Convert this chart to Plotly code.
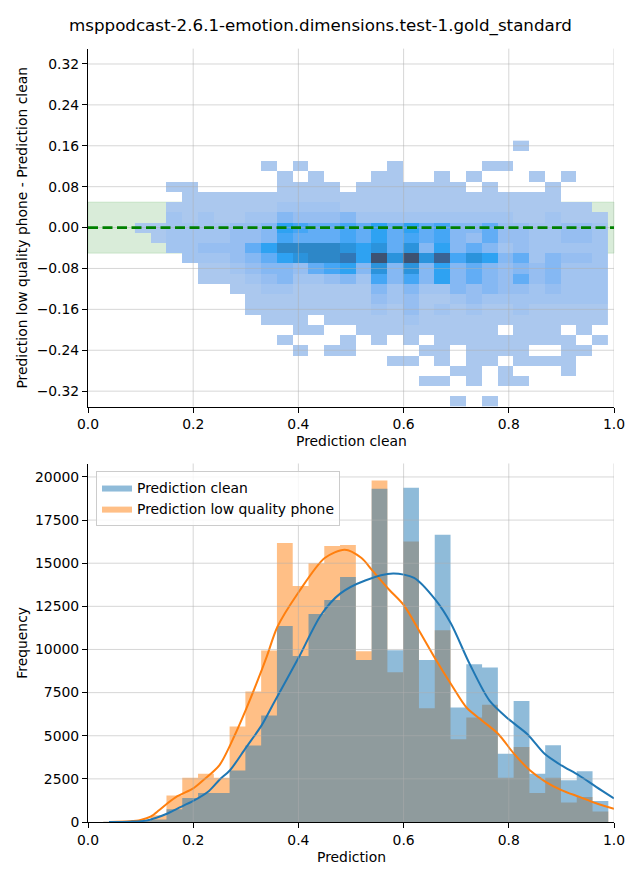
import plotly.graph_objects as go

TITLE = "msppodcast-2.6.1-emotion.dimensions.test-1.gold_standard"

# ---------------- top panel: 2D histogram ----------------
# column centres (Prediction clean) and row centres (difference)
grid_x = [0.1042, 0.1342, 0.1642, 0.1942, 0.2242, 0.2542, 0.2842, 0.3142, 0.3442, 0.3742,
          0.4042, 0.4342, 0.4642, 0.4942, 0.5242, 0.5542, 0.5842, 0.6142, 0.6442, 0.6742,
          0.7042, 0.7342, 0.7642, 0.7942, 0.8242, 0.8542, 0.8842, 0.9142, 0.9442, 0.9742]
grid_y = [-0.34, -0.32, -0.30, -0.28, -0.26, -0.24, -0.22, -0.20, -0.18, -0.16, -0.14, -0.12,
          -0.10, -0.08, -0.06, -0.04, -0.02, 0.00, 0.02, 0.04, 0.06, 0.08, 0.10, 0.12, 0.14, 0.16]

# estimated cell density (0 = empty), rows listed bottom (-0.34) to top (0.16)
density = [
    [0,0,0,0,0,0,0,0,0,0,0,0,0,0,0,0,0,0,0,0,1,0,1,0,0,0,0,0,0,0],
    [0,0,0,0,0,0,0,0,0,0,0,0,0,0,0,0,0,0,0,0,0,0,0,0,0,0,0,0,0,0],
    [0,0,0,0,0,0,0,0,0,0,0,0,0,0,0,0,0,0,1,1,0,1,0,1,1,0,0,0,0,0],
    [0,0,0,0,0,0,0,0,0,0,0,0,0,0,0,0,0,0,0,0,1,1,0,1,0,0,0,1,0,0],
    [0,0,0,0,0,0,0,0,0,0,0,0,0,0,0,0,1,1,0,1,0,1,1,0,1,1,1,1,0,0],
    [0,0,0,0,0,0,0,0,0,0,1,0,1,1,0,0,0,0,1,1,0,1,1,1,1,0,0,1,1,0],
    [0,0,0,0,0,0,0,0,0,1,0,0,0,1,0,1,0,1,0,1,1,1,1,1,1,1,1,1,0,1],
    [0,0,0,0,0,0,0,0,0,0,1,1,0,0,1,1,1,1,1,1,1,1,1,0,1,1,1,0,1,0],
    [0,0,0,0,0,0,0,0,1,1,1,0,1,1,1,1,1,2,1,1,1,1,1,1,1,1,1,1,1,1],
    [0,0,0,0,0,0,0,1,1,1,1,1,1,1,1,2,1,3,1,2,1,2,1,1,2,1,1,1,1,1],
    [0,0,0,0,0,0,0,1,1,1,1,1,1,1,1,3,2,3,1,1,2,3,2,2,2,2,2,2,2,2],
    [0,0,0,0,0,0,1,1,2,2,1,1,1,1,1,4,2,4,2,2,4,3,4,3,3,2,3,2,2,2],
    [0,0,0,0,1,1,1,2,3,4,2,2,3,4,2,6,4,6,4,7,4,5,4,3,5,3,4,2,2,2],
    [0,0,0,0,1,1,2,3,4,4,3,5,6,7,4,8,4,8,4,7,4,5,4,3,4,3,4,2,2,2],
    [0,0,0,2,2,2,3,4,5,7,8,9,9,10,7,12,8,12,8,11,6,8,7,4,5,2,4,3,3,2],
    [0,0,2,2,3,3,3,5,7,9,9,9,9,8,7,8,5,8,4,7,4,5,4,2,3,2,2,2,2,2],
    [0,1,2,2,2,2,3,3,4,6,5,5,5,6,5,7,5,6,5,6,4,3,5,3,3,2,2,3,3,2],
    [1,1,2,2,2,2,3,3,4,7,6,5,5,6,5,7,5,7,5,6,4,4,5,3,3,2,2,3,3,2],
    [0,0,2,1,2,1,1,2,2,4,3,3,3,4,2,2,2,2,2,2,2,2,2,2,1,1,2,1,1,1],
    [0,0,1,1,1,1,1,1,1,2,2,2,2,1,1,1,1,1,1,1,1,1,1,1,1,1,1,1,1,0],
    [0,0,0,1,1,1,1,1,1,1,1,1,1,1,1,1,1,1,1,1,1,1,1,1,1,1,1,0,0,0],
    [0,0,1,1,0,0,0,0,0,1,1,1,1,0,1,1,1,1,1,1,1,0,1,0,0,0,1,0,0,0],
    [0,0,0,0,0,0,0,0,0,1,0,1,0,0,0,1,1,0,0,1,0,1,0,0,0,1,0,1,0,0],
    [0,0,0,0,0,0,0,0,1,0,1,0,0,0,0,0,1,0,0,0,0,0,1,1,0,0,0,0,0,0],
    [0,0,0,0,0,0,0,0,0,0,0,0,0,0,0,0,0,0,0,0,0,0,0,0,0,0,0,0,0,0],
    [0,0,0,0,0,0,0,0,0,0,0,0,0,0,0,0,0,0,0,0,0,0,0,0,1,0,0,0,0,0],
]

level_colors = ["#abc8ee", "#a2c4f0", "#96bef1", "#85b8f3", "#62adf5", "#45a6f5",
                "#2ea2f2", "#2b93dc", "#2d87c8", "#3177b6", "#3a6394", "#3d5272"]

top_x_ticks = [0.0, 0.2, 0.4, 0.6, 0.8, 1.0]
top_x_labels = ["0.0", "0.2", "0.4", "0.6", "0.8", "1.0"]
top_y_ticks = [-0.32, -0.24, -0.16, -0.08, 0.0, 0.08, 0.16, 0.24, 0.32]
top_y_labels = ["\u22120.32", "\u22120.24", "\u22120.16", "\u22120.08", "0.00",
                "0.08", "0.16", "0.24", "0.32"]
band_limits = [-0.05, 0.05]

# ---------------- bottom panel: histograms ----------------
bin_width = 0.03
hist_centers = [0.0442, 0.0742, 0.1042, 0.1342, 0.1642, 0.1942, 0.2242, 0.2542, 0.2842, 0.3142,
                0.3442, 0.3742, 0.4042, 0.4342, 0.4642, 0.4942, 0.5242, 0.5542, 0.5842, 0.6142,
                0.6442, 0.6742, 0.7042, 0.7342, 0.7642, 0.7942, 0.8242, 0.8542, 0.8842, 0.9142,
                0.9442, 0.9742]
clean_counts = [20, 40, 60, 140, 733, 1390, 1680, 1680, 2990, 4440, 6180, 11360, 9620, 12060,
                12870, 14200, 9390, 19320, 9950, 19380, 9390, 16650, 6640, 9150, 8950, 3950,
                7020, 2800, 4450, 2420, 2940, 1220]
phone_counts = [10, 30, 80, 390, 1540, 2570, 2800, 2570, 5540, 7570, 9940, 16170, 13680, 15000,
                16000, 16060, 9900, 19790, 8680, 16260, 6600, 11120, 4790, 6050, 6790, 2560,
                4350, 1680, 2560, 1130, 1450, 610]

kde_x_clean = [0.04, 0.08, 0.11, 0.13, 0.15, 0.17, 0.20, 0.23, 0.25, 0.27, 0.30, 0.33, 0.355,
               0.40, 0.443, 0.48, 0.527, 0.58, 0.62, 0.66, 0.69, 0.725, 0.763, 0.80, 0.835,
               0.868, 0.90, 0.933, 0.966, 1.0]
kde_y_clean = [0, 20, 80, 250, 480, 780, 1220, 1800, 2450, 3000, 4300, 5600, 7000, 9500, 12000,
               13250, 14000, 14400, 14150, 12900, 11500, 9200, 7050, 5950, 5100, 3950, 3280,
               2710, 2040, 1370]
kde_x_phone = [0.04, 0.08, 0.10, 0.12, 0.135, 0.15, 0.17, 0.20, 0.22, 0.25, 0.28, 0.30, 0.32,
               0.34, 0.36, 0.40, 0.45, 0.488, 0.52, 0.54, 0.573, 0.60, 0.629, 0.66, 0.69, 0.72,
               0.75, 0.78, 0.81, 0.84, 0.87, 0.90, 0.933, 0.966, 1.0]
kde_y_phone = [0, 40, 120, 330, 680, 1060, 1500, 1950, 2450, 3300, 5100, 6500, 8000, 9600,
               11300, 13300, 15300, 15780, 15300, 14600, 13450, 12580, 11120, 9480, 8000, 6620,
               5860, 5100, 3950, 3000, 2330, 1850, 1470, 1090, 760]

bot_y_ticks = [0, 2500, 5000, 7500, 10000, 12500, 15000, 17500, 20000]

# ---------------- figure ----------------
z = [[(v if v > 0 else None) for v in row] for row in density]
n = len(level_colors)
colorscale = [[i / (n - 1), c] for i, c in enumerate(level_colors)]

fig = go.Figure()
fig.add_trace(go.Heatmap(x=grid_x, y=grid_y, z=z, colorscale=colorscale, zmin=1, zmax=n,
                         showscale=False, hoverongaps=False, xaxis="x", yaxis="y"))


def step_hist(counts, name, fill, rank):
    # histogram drawn as a seamless stepped area (bins share edges)
    xs = [c - bin_width / 2 for c in hist_centers] + [hist_centers[-1] + bin_width / 2]
    ys = list(counts) + [counts[-1]]
    return go.Scatter(x=xs, y=ys, mode="lines", line=dict(width=0, shape="hv"),
                      fill="tozeroy", fillcolor=fill, name=name, legendrank=rank,
                      xaxis="x2", yaxis="y2", hoverinfo="skip")


fig.add_trace(step_hist(phone_counts, "Prediction low quality phone", "rgba(255,127,14,0.5)", 2))
fig.add_trace(step_hist(clean_counts, "Prediction clean", "rgba(31,119,180,0.5)", 1))
fig.add_trace(go.Scatter(x=kde_x_phone, y=kde_y_phone, mode="lines", showlegend=False,
                         line=dict(color="#ff7f0e", width=2, shape="spline", smoothing=0.8),
                         xaxis="x2", yaxis="y2"))
fig.add_trace(go.Scatter(x=kde_x_clean, y=kde_y_clean, mode="lines", showlegend=False,
                         line=dict(color="#1f77b4", width=2, shape="spline", smoothing=0.8),
                         xaxis="x2", yaxis="y2"))

W, H = 640, 880
XD = [88 / W, 614 / W]
TOP_YD = [1 - 406.5 / H, 1 - 48.65 / H]
BOT_YD = [1 - 822 / H, 1 - 463.5 / H]

axis_common = dict(showline=True, linecolor="black", linewidth=1, ticks="outside", ticklen=5,
                   tickwidth=1, tickcolor="black", showgrid=False, zeroline=False,
                   automargin=False, tickfont=dict(size=13.9, color="black"))

fig.update_layout(
    width=W, height=H, margin=dict(l=0, r=0, t=0, b=0),
    paper_bgcolor="white", plot_bgcolor="white",
    font=dict(family="DejaVu Sans", size=13.9, color="black"),
    showlegend=True,
    xaxis=dict(domain=XD, range=[0, 1], anchor="y", tickvals=top_x_ticks, ticktext=top_x_labels, **axis_common),
    yaxis=dict(domain=TOP_YD, range=[-0.35, 0.35], anchor="x", tickvals=top_y_ticks, ticktext=top_y_labels, **axis_common),
    xaxis2=dict(domain=XD, range=[0, 1], anchor="y2", tickvals=top_x_ticks, ticktext=top_x_labels, **axis_common),
    yaxis2=dict(domain=BOT_YD, range=[0, 20780], anchor="x2", tickvals=bot_y_ticks,
                ticktext=[str(v) for v in bot_y_ticks], **axis_common),
    legend=dict(x=96 / W, y=1 - 471 / H, xanchor="left", yanchor="top",
                bgcolor="rgba(255,255,255,0.8)", bordercolor="#cccccc", borderwidth=1,
                font=dict(size=13.9, color="black"), tracegroupgap=2),
)

shapes = []
shapes.append(dict(type="rect", xref="x domain", yref="y", x0=0, x1=1, y0=band_limits[0], y1=band_limits[1],
                   fillcolor="rgba(0,128,0,0.15)", line=dict(color="rgba(0,128,0,0.12)", width=1), layer="below"))
grid_line = dict(color="rgba(176,176,176,0.5)", width=1)
for xv in top_x_ticks[1:]:
    for ya in ("y", "y2"):
        xa = "x" if ya == "y" else "x2"
        shapes.append(dict(type="line", xref=xa, yref=ya + " domain", x0=xv, x1=xv, y0=0, y1=1,
                           line=grid_line, layer="above"))
for yv in top_y_ticks:
    shapes.append(dict(type="line", xref="x domain", yref="y", x0=0, x1=1, y0=yv, y1=yv,
                       line=grid_line, layer="above"))
for yv in bot_y_ticks[1:]:
    shapes.append(dict(type="line", xref="x2 domain", yref="y2", x0=0, x1=1, y0=yv, y1=yv,
                       line=grid_line, layer="above"))
shapes.append(dict(type="line", xref="x domain", yref="y", x0=0, x1=1, y0=0, y1=0,
                   line=dict(color="green", width=2.6, dash="10px,4.5px"), layer="above"))
fig.update_layout(shapes=shapes)

ann = [
    dict(text=TITLE, x=0.5, y=1 - 26 / H, font=dict(size=16.7)),
    dict(text="Prediction clean", x=(XD[0] + XD[1]) / 2, y=1 - 441 / H),
    dict(text="Prediction low quality phone - Prediction clean", x=22 / W,
         y=(TOP_YD[0] + TOP_YD[1]) / 2, textangle=-90),
    dict(text="Prediction", x=(XD[0] + XD[1]) / 2, y=1 - 857 / H),
    dict(text="Frequency", x=22 / W, y=(BOT_YD[0] + BOT_YD[1]) / 2, textangle=-90),
]
for a in ann:
    a.update(xref="paper", yref="paper", showarrow=False, xanchor="center", yanchor="middle")
    a.setdefault("font", dict(size=13.9))
fig.update_layout(annotations=ann)

fig.write_html("out.html")
